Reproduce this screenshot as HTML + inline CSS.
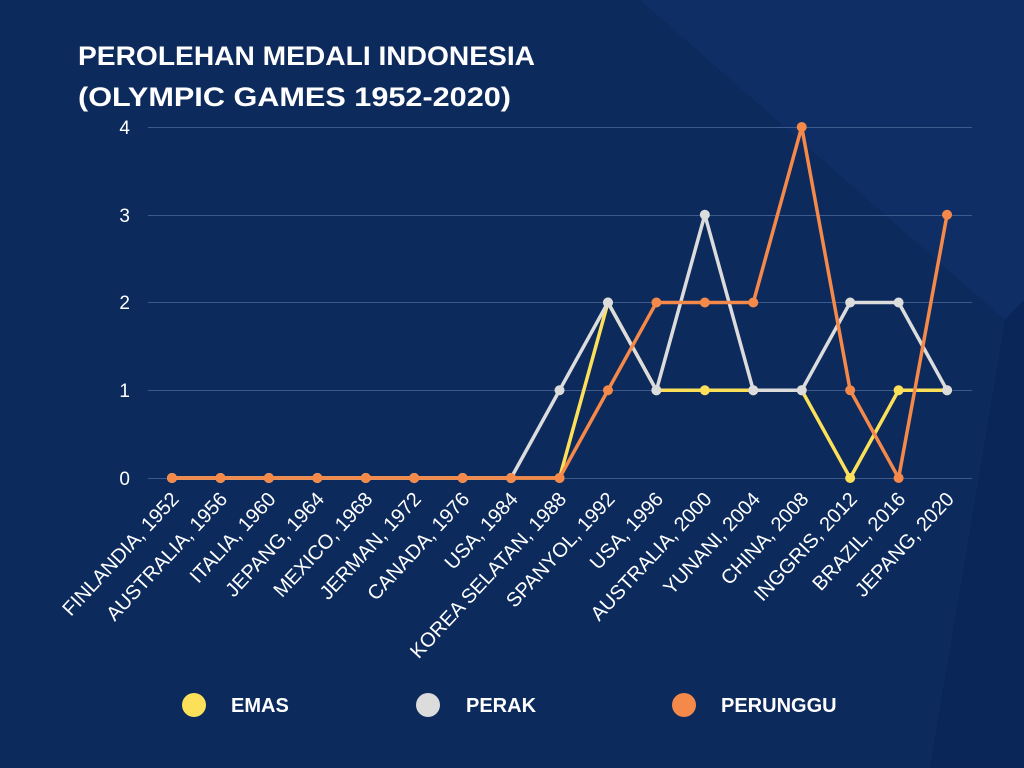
<!DOCTYPE html>
<html><head><meta charset="utf-8"><style>
html,body{margin:0;padding:0;width:1024px;height:768px;overflow:hidden;background:#0c2a5c}
svg{display:block}
text{font-family:"Liberation Sans",sans-serif;fill:#fff}
</style></head><body>
<svg width="1024" height="768" viewBox="0 0 1024 768">
<rect width="1024" height="768" fill="#0c2a5c"/>
<polygon points="640,0 1024,0 1024,300 1005,320" fill="#0f2f66" opacity="0.9"/>
<polygon points="1005,320 1024,300 1024,768 930,768" fill="#0a2657" opacity="0.8"/>
<text x="78" y="65" font-size="27" font-weight="bold" textLength="457" lengthAdjust="spacingAndGlyphs">PEROLEHAN MEDALI INDONESIA</text>
<text x="78" y="106" font-size="27" font-weight="bold" textLength="433" lengthAdjust="spacingAndGlyphs">(OLYMPIC GAMES 1952-2020)</text>
<g stroke="#3d5a8c" stroke-width="1">
<line x1="148" y1="127.5" x2="972" y2="127.5"/>
<line x1="148" y1="215.5" x2="972" y2="215.5"/>
<line x1="148" y1="302.5" x2="972" y2="302.5"/>
<line x1="148" y1="390.5" x2="972" y2="390.5"/>
<line x1="148" y1="478.5" x2="972" y2="478.5"/>
</g>
<g font-size="19" text-anchor="end">
<text x="130" y="134">4</text><text x="130" y="222">3</text><text x="130" y="309">2</text><text x="130" y="397">1</text><text x="130" y="485">0</text>
</g>
<g id="chart"></g>
<g font-size="20" font-weight="bold">
<circle cx="194" cy="705" r="12" fill="#fde05a"/><text x="231" y="712">EMAS</text>
<circle cx="428" cy="705" r="12" fill="#dcdcdc"/><text x="466" y="712">PERAK</text>
<circle cx="684" cy="705" r="12" fill="#f4894a"/><text x="721" y="712">PERUNGGU</text>
</g>
</svg>
<script>
const labels=["FINLANDIA, 1952","AUSTRALIA, 1956","ITALIA, 1960","JEPANG, 1964","MEXICO, 1968","JERMAN, 1972","CANADA, 1976","USA, 1984","KOREA SELATAN, 1988","SPANYOL, 1992","USA, 1996","AUSTRALIA, 2000","YUNANI, 2004","CHINA, 2008","INGGRIS, 2012","BRAZIL, 2016","JEPANG, 2020"];
const emas=[0,0,0,0,0,0,0,0,0,2,1,1,1,1,0,1,1];
const perak=[0,0,0,0,0,0,0,0,1,2,1,3,1,1,2,2,1];
const perunggu=[0,0,0,0,0,0,0,0,0,1,2,2,2,4,1,0,3];
const X=i=>172+i*48.44, Y=v=>478-v*87.75;
const NS="http://www.w3.org/2000/svg";const g=document.getElementById("chart");
function el(t,a,p){const e=document.createElementNS(NS,t);for(const k in a)e.setAttribute(k,a[k]);(p||g).appendChild(e);return e;}
function series(d,c){el("polyline",{points:d.map((v,i)=>X(i)+","+Y(v)).join(" "),fill:"none",stroke:c,"stroke-width":3.5,"stroke-linejoin":"round"});d.forEach((v,i)=>el("circle",{cx:X(i),cy:Y(v),r:5,fill:c}));}
series(emas,"#fde05a");series(perak,"#dcdcdc");series(perunggu,"#f4894a");
labels.forEach((l,i)=>{const t=el("text",{x:0,y:0,"font-size":"20","text-anchor":"end",transform:`translate(${X(i)+8},${500}) rotate(-47)`});t.textContent=l;});
</script>
</body></html>
